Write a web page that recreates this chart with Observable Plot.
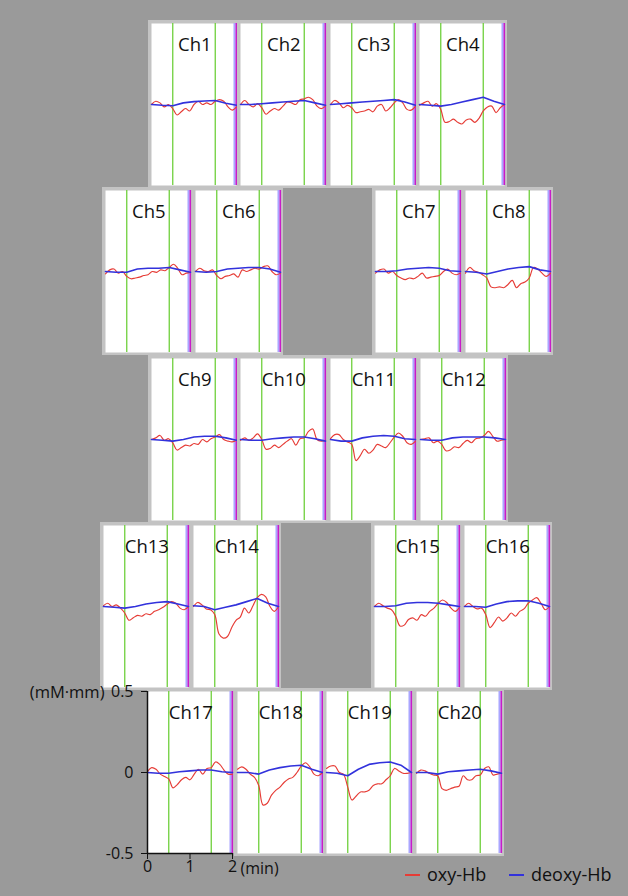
<!DOCTYPE html>
<html>
<head>
<meta charset="utf-8">
<script src="https://cdn.jsdelivr.net/npm/d3@7"></script>
<script src="https://cdn.jsdelivr.net/npm/@observablehq/plot@0.6"></script>
<style>
html,body{margin:0;padding:0;background:#9a9a9a;}
#fig{position:relative;width:628px;height:896px;background:#9a9a9a;overflow:hidden;font-family:"Open Sans",sans-serif;}
#fig svg{position:absolute;overflow:visible;}
.lg{position:absolute;font-size:18px;line-height:22px;height:22px;color:#111;white-space:nowrap;}
.sw{position:absolute;height:2px;width:15px;}
</style>
</head>
<body>
<div id="fig"></div>
<script>
// ---------- data ----------
const channels = ["Ch1","Ch2","Ch3","Ch4","Ch5","Ch6","Ch7","Ch8","Ch9","Ch10",
                  "Ch11","Ch12","Ch13","Ch14","Ch15","Ch16","Ch17","Ch18","Ch19","Ch20"];
const timeOxy = [0,0.1,0.2,0.3,0.4,0.5,0.6,0.7,0.8,0.9,1.0,1.1,1.2,1.3,1.4,1.5,1.6,1.7,1.8,1.9,2.0];
const timeDeoxy = [0,0.25,0.5,0.75,1.0,1.25,1.5,1.75,2.0];
const taskMarkers = [0.5, 1.5];
const endMarkers = [1.955, 1.995];
const yTicks = [-0.5, 0, 0.5];
const xTicks = [0, 1, 2];

const oxyCh1  = [0,0.02,0.01,-0.015,0,-0.025,-0.065,-0.045,-0.025,-0.04,0,0.02,0,0.01,0,0.02,0.03,0.02,-0.015,-0.035,-0.015];
const deoxyCh1 = [0,-0.005,-0.008,0.01,0.018,0.022,0.025,0.008,-0.005];
const oxyCh2  = [0,0.025,0,-0.015,0.005,-0.02,-0.06,-0.04,-0.025,-0.035,-0.01,0.015,0.01,0,0.03,0.035,0.045,0.03,-0.01,-0.025,-0.01];
const deoxyCh2 = [0,0,0.005,0.01,0.015,0.02,0.025,0.01,-0.005];
const oxyCh3  = [0,0.025,0.01,-0.02,-0.005,-0.02,-0.05,-0.045,-0.04,-0.03,-0.045,-0.01,0,-0.04,-0.02,0.01,0.03,0.01,-0.03,-0.035,-0.01];
const deoxyCh3 = [0,0.005,0.01,0.015,0.02,0.025,0.03,0.015,-0.005];
const oxyCh4  = [-0.005,0.01,0.02,-0.01,0.005,-0.03,-0.11,-0.105,-0.09,-0.11,-0.12,-0.095,-0.09,-0.11,-0.085,-0.04,-0.015,-0.01,-0.05,-0.02,0];
const deoxyCh4 = [0,-0.005,-0.01,0,0.015,0.03,0.045,0.02,0];
const oxyCh5  = [-0.015,0.01,0.015,-0.01,0,-0.03,-0.045,-0.04,-0.035,-0.025,-0.02,0,-0.005,0.01,0.005,0.025,0.045,0.02,-0.02,-0.01,-0.005];
const deoxyCh5 = [0,-0.005,-0.005,0.015,0.02,0.02,0.025,0.01,-0.005];
const oxyCh6  = [0,0.02,0.005,0,0.01,-0.025,-0.045,-0.03,-0.025,-0.015,-0.035,0.01,0,0.01,0.02,0.015,0.03,0.035,0,-0.02,-0.01];
const deoxyCh6 = [0,-0.005,0,0.015,0.02,0.025,0.025,0.015,-0.005];
const oxyCh7  = [-0.01,0.01,0.015,-0.01,0,-0.025,-0.04,-0.05,-0.04,-0.045,-0.03,-0.01,-0.04,-0.035,-0.03,-0.025,0,0.015,-0.01,-0.02,-0.01];
const deoxyCh7 = [0,0,0.005,0.015,0.02,0.025,0.02,0.005,0];
const oxyCh8  = [-0.01,0.025,0.005,-0.005,-0.02,-0.04,-0.095,-0.1,-0.095,-0.1,-0.08,-0.055,-0.1,-0.075,-0.065,-0.04,0.025,0.015,-0.01,-0.03,-0.01];
const deoxyCh8 = [0,-0.005,-0.015,0,0.015,0.025,0.03,0.01,0];
const oxyCh9  = [0,0.01,0.025,-0.005,0.005,-0.02,-0.065,-0.05,-0.035,-0.04,-0.025,-0.03,0,-0.015,0.005,0.015,0.03,0,-0.01,-0.015,-0.005];
const deoxyCh9 = [0,-0.005,-0.01,0,0.015,0.02,0.02,0.01,-0.005];
const oxyCh10 = [-0.005,0.01,-0.005,0.01,0.035,0,-0.06,-0.055,-0.035,-0.05,-0.03,-0.01,0.005,-0.035,0.005,0.01,0.05,0.065,0,-0.01,-0.005];
const deoxyCh10 = [0,-0.005,-0.005,0.005,0.01,0.015,0.015,0.005,-0.01];
const oxyCh11 = [0.005,0.03,0.03,0,-0.015,-0.03,-0.13,-0.1,-0.06,-0.085,-0.065,-0.03,-0.04,-0.05,-0.02,0.015,0.04,0.02,-0.02,-0.03,-0.01];
const deoxyCh11 = [0,-0.01,-0.01,0.01,0.02,0.025,0.02,0.005,0];
const oxyCh12 = [0,0.005,0.01,-0.02,-0.01,-0.03,-0.07,-0.065,-0.045,-0.05,-0.025,-0.005,-0.02,0.005,0.01,0.025,0.05,0.02,-0.01,-0.005,0];
const deoxyCh12 = [0,-0.005,-0.005,0.01,0.015,0.015,0.015,0.01,0];
const oxyCh13 = [0.005,0.02,0,0.01,-0.01,-0.04,-0.085,-0.07,-0.055,-0.06,-0.045,-0.05,-0.03,-0.02,-0.005,0.015,0.03,0.02,-0.01,-0.02,0];
const deoxyCh13 = [0,-0.005,-0.01,0,0.015,0.025,0.03,0.015,0];
const oxyCh14 = [0,0.025,0.01,-0.015,-0.02,-0.05,-0.17,-0.195,-0.185,-0.13,-0.085,-0.065,-0.01,-0.04,0.005,0.055,0.075,0.06,0,-0.03,0];
const deoxyCh14 = [0.005,0,-0.02,-0.005,0.01,0.03,0.05,0.02,0];
const oxyCh15 = [0,0.02,0.005,-0.01,-0.02,-0.06,-0.12,-0.115,-0.08,-0.07,-0.085,-0.05,-0.06,-0.03,-0.01,0.02,0.04,0.025,-0.01,-0.03,-0.005];
const deoxyCh15 = [0,0,0.005,0.02,0.025,0.025,0.02,0.01,0];
const oxyCh16 = [0,0.02,0,-0.015,-0.01,-0.05,-0.13,-0.1,-0.065,-0.09,-0.07,-0.04,-0.06,-0.03,-0.015,0.02,0.04,0.055,0.02,-0.02,0];
const deoxyCh16 = [0,0,-0.005,0.015,0.03,0.035,0.035,0.02,0];
const oxyCh17 = [0.005,0.03,0.02,-0.01,-0.025,-0.04,-0.095,-0.075,-0.045,-0.03,-0.045,-0.01,0.02,-0.01,0.025,0.03,0.065,0.05,0.015,-0.01,-0.01];
const deoxyCh17 = [0,-0.005,-0.005,0.005,0.01,0.015,0.015,0.005,0];
const oxyCh18 = [0.02,0.035,0.02,-0.01,-0.03,-0.08,-0.2,-0.19,-0.14,-0.11,-0.09,-0.06,-0.04,-0.03,0,0.04,0.06,0.035,-0.01,-0.02,0];
const deoxyCh18 = [0,0,-0.01,0.015,0.03,0.04,0.045,0.02,0];
const oxyCh19 = [0.025,0.04,0.04,0,-0.01,-0.09,-0.17,-0.145,-0.12,-0.12,-0.11,-0.08,-0.07,-0.07,-0.045,-0.02,0.025,0.01,-0.005,-0.005,0];
const deoxyCh19 = [0,-0.005,-0.02,0.02,0.05,0.06,0.065,0.045,0];
const oxyCh20 = [-0.005,0.015,0.01,-0.005,-0.015,-0.02,-0.1,-0.11,-0.1,-0.09,-0.085,-0.02,-0.045,-0.045,-0.02,-0.015,0.025,0.035,-0.015,-0.01,-0.005];
const deoxyCh20 = [0,0,-0.01,0.005,0.01,0.015,0.02,0.01,-0.005];

const oxySeries = [oxyCh1,oxyCh2,oxyCh3,oxyCh4,oxyCh5,oxyCh6,oxyCh7,oxyCh8,oxyCh9,oxyCh10,
                   oxyCh11,oxyCh12,oxyCh13,oxyCh14,oxyCh15,oxyCh16,oxyCh17,oxyCh18,oxyCh19,oxyCh20];
const deoxySeries = [deoxyCh1,deoxyCh2,deoxyCh3,deoxyCh4,deoxyCh5,deoxyCh6,deoxyCh7,deoxyCh8,deoxyCh9,deoxyCh10,
                     deoxyCh11,deoxyCh12,deoxyCh13,deoxyCh14,deoxyCh15,deoxyCh16,deoxyCh17,deoxyCh18,deoxyCh19,deoxyCh20];

// ---------- layout (pixel placement of each panel's plotting area) ----------
const panelLeft = [150.5,240,329.5,419, 104.5,194.5,374.5,464.5, 150.5,240,329.5,420, 103,193,374,464, 147,236.5,326,415.5];
const panelTop  = [23,23,23,23, 190,190,190,190, 358,358,358,358, 525,525,525,525, 691,691,691,691];
const W = 85, H = 162;
const COL = {oxy:"#e63c36", deoxy:"#3232dc", green:"#6fd03c", lav:"#aaa6ff", mag:"#c81cc8", border:"#c3c3c3", text:"#111"};

const fig = document.getElementById("fig");

channels.forEach((name, i) => {
  const oxy = timeOxy.map((t, k) => ({t, v: oxySeries[i][k]}));
  const deoxy = timeDeoxy.map((t, k) => ({t, v: deoxySeries[i][k]}));
  const isAxis = name === "Ch17";
  const m = isAxis ? {top: 3, right: 50, bottom: 32, left: 125} : {top: 3, right: 3, bottom: 3, left: 3};

  if (isAxis) {
    const bg = document.createElement("div");
    bg.style.cssText = `position:absolute;left:${panelLeft[i]}px;top:${panelTop[i]-3}px;width:${W+3}px;height:${H+3}px;background:${COL.border};`;
    fig.appendChild(bg);
  }

  const marks = [
    Plot.frame({fill: "white", stroke: null}),
    Plot.ruleX(taskMarkers, {stroke: COL.green, strokeWidth: 1.3}),
    Plot.ruleX([endMarkers[0]], {stroke: COL.lav, strokeWidth: 2.2}),
    Plot.ruleX([endMarkers[1]], {stroke: COL.mag, strokeWidth: 1.6}),
    Plot.line(oxy, {x: "t", y: "v", stroke: COL.oxy, strokeWidth: 1.15, curve: "catmull-rom"}),
    Plot.line(deoxy, {x: "t", y: "v", stroke: COL.deoxy, strokeWidth: 1.6}),
    Plot.text([name], {text: d => d, x: 1.02, frameAnchor: "top", lineAnchor: "middle", dy: 22, fontSize: 18.5, fill: COL.text})
  ];
  if (isAxis) {
    marks.push(
      Plot.ruleX([0], {y1: -0.5, y2: 0.5, stroke: "#111", strokeWidth: 1.5}),
      Plot.ruleY([-0.5], {x1: 0, x2: 2, stroke: "#111", strokeWidth: 1.5}),
      Plot.axisY(yTicks, {label: null, tickSize: 6, tickPadding: 8, tickFormat: d => String(d), fontSize: 16, fill: COL.text, stroke: "#111"}),
      Plot.axisX(xTicks, {label: null, tickSize: 6, tickPadding: 1, tickFormat: d => String(d), fontSize: 16, fill: COL.text, stroke: "#111"}),
      Plot.text(["(mM·mm)"], {text: d => d, x: 0, y: 0.5, dx: -43, dy: 1, textAnchor: "end", fontSize: 16.5, fill: COL.text}),
      Plot.text(["(min)"], {text: d => d, x: 2, y: -0.5, dx: 8, dy: 15, textAnchor: "start", fontSize: 16, fill: COL.text})
    );
  }

  const svg = Plot.plot({
    width: W + m.left + m.right,
    height: H + m.top + m.bottom,
    marginTop: m.top, marginRight: m.right, marginBottom: m.bottom, marginLeft: m.left,
    x: {domain: [0, 2], axis: null, label: null},
    y: {domain: [-0.5, 0.5], axis: null, label: null},
    style: {background: isAxis ? "transparent" : COL.border, fontFamily: "'Open Sans', sans-serif", overflow: "visible"},
    marks
  });
  svg.style.left = (panelLeft[i] - m.left) + "px";
  svg.style.top = (panelTop[i] - m.top) + "px";
  fig.appendChild(svg);
});

// ---------- legend ----------
const legendItems = [
  {label: "oxy-Hb", color: COL.oxy, x: 405},
  {label: "deoxy-Hb", color: COL.deoxy, x: 509}
];
legendItems.forEach(it => {
  const sw = document.createElement("div");
  sw.className = "sw";
  sw.style.left = it.x + "px";
  sw.style.top = "874px";
  sw.style.background = it.color;
  fig.appendChild(sw);
  const lb = document.createElement("div");
  lb.className = "lg";
  lb.style.left = (it.x + 22) + "px";
  lb.style.top = "863px";
  lb.textContent = it.label;
  fig.appendChild(lb);
});
</script>
</body>
</html>
